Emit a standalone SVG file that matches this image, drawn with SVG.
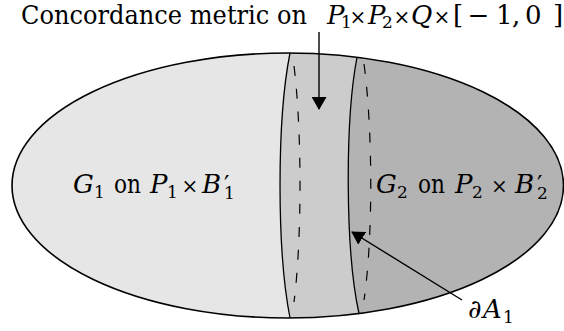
<svg xmlns="http://www.w3.org/2000/svg" width="564" height="331" viewBox="0 0 564 331">
<style>
.f{font-family:'DejaVu Serif','Liberation Serif',serif;fill:#000}
.t{font-size:26px}
.i{font-style:italic}
.s{font-size:17px}
.p{font-size:24px}
.x{font-size:20px;text-anchor:middle}
.edge{fill:none;stroke:#000;stroke-width:1.6}
.cut{fill:none;stroke:#000;stroke-width:1.3}
.dash{fill:none;stroke:#000;stroke-width:1.2;stroke-dasharray:10 13}
.arrow{fill:none;stroke:#000;stroke-width:1.4;marker-end:url(#head)}
</style>
<defs>
<marker id="head" markerUnits="userSpaceOnUse" markerWidth="13" markerHeight="15" viewBox="0 0 13 15" refX="12" refY="7.5" orient="auto">
<path d="M0,0 L13,7.5 L0,15 Z" fill="#000"/>
</marker>
</defs>
<g id="surface">
<ellipse cx="287.75" cy="185.5" rx="275.75" ry="132.5" fill="#e6e6e6"/>
<path id="band" d="M290,53 C276.7,120 276.7,250 290,318 A275.75 132.5 0 0 0 359,313.5 C345,250 345,120 357,57.25 A275.75 132.5 0 0 0 290,53 Z" fill="#cccccc"/>
<path id="right" d="M357,57.25 C345,120 345,250 359,313.5 A275.75 132.5 0 0 0 357,57.25 Z" fill="#b3b3b3"/>
<path class="cut" d="M290,53 C276.7,120 276.7,250 290,318"/>
<path class="cut" d="M357,57.25 C345,120 345,250 359,313.5"/>
<path class="dash" d="M294,66 C302,130 302,240 294,302"/>
<path class="dash" d="M364,64 C373,130 373,240 364,300"/>
<ellipse class="edge" cx="287.75" cy="185.5" rx="275.75" ry="132.5"/>
</g>
<g id="connectors">
<path class="arrow" d="M319,32 L319,109"/>
<path class="arrow" d="M462,300 L352,232"/>
</g>
<g id="title">
<text class="f t"><tspan x="21" y="24" textLength="286" lengthAdjust="spacingAndGlyphs">Concordance metric on</tspan><tspan class="i" x="327" y="24">P</tspan><tspan class="s" x="341" y="28">1</tspan><tspan class="x" x="358" y="24">×</tspan><tspan class="i" x="368" y="24">P</tspan><tspan class="s" x="382" y="28">2</tspan><tspan class="x" x="402" y="24">×</tspan><tspan class="i" x="411" y="24">Q</tspan><tspan class="x" x="442" y="24">×</tspan><tspan x="453" y="24">[</tspan><tspan class="x" x="478.5" y="24" style="font-size:26px">−</tspan><tspan x="496" y="24">1</tspan><tspan x="512" y="24">,</tspan><tspan x="525" y="24">0</tspan><tspan x="553" y="24">]</tspan></text>
</g>
<g id="G1">
<text class="f t"><tspan class="i" x="73" y="193">G</tspan><tspan class="s" x="94" y="198">1</tspan><tspan x="114" y="193" textLength="27" lengthAdjust="spacingAndGlyphs">on</tspan><tspan class="i" x="150" y="193">P</tspan><tspan class="s" x="167" y="198">1</tspan><tspan class="x" x="190" y="193">×</tspan><tspan class="i" x="202" y="193">B</tspan><tspan class="p" x="224" y="193">′</tspan><tspan class="s" x="224" y="199">1</tspan></text>
</g>
<g id="G2">
<text class="f t"><tspan class="i" x="376" y="193">G</tspan><tspan class="s" x="397" y="198">2</tspan><tspan x="418" y="193" textLength="27" lengthAdjust="spacingAndGlyphs">on</tspan><tspan class="i" x="455" y="193">P</tspan><tspan class="s" x="472" y="198">2</tspan><tspan class="x" x="499.5" y="193">×</tspan><tspan class="i" x="515" y="193">B</tspan><tspan class="p" x="537" y="193">′</tspan><tspan class="s" x="537" y="199">2</tspan></text>
</g>
<g id="dA1">
<text class="f t"><tspan x="468" y="318">∂</tspan><tspan class="i" x="483" y="318">A</tspan><tspan class="s" x="503" y="323">1</tspan></text>
</g>
</svg>
